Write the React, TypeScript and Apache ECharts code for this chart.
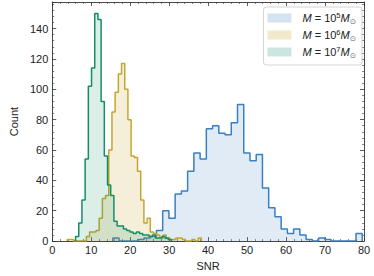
import React, { useEffect, useRef } from 'react';
import * as echarts from 'echarts';

// Histogram bins: start edge, bin width, counts per bin
const blueStart = 15.54;
const blueWidth = 1.6;
const blueCounts = [2, 0, 0, 0, 1, 2, 3, 7, 20, 15, 31, 33, 46, 58, 54, 74, 76, 71, 70, 78, 90, 58, 53, 57, 35, 22, 16, 8, 5, 8, 4, 1, 0, 2, 1, 0, 0, 0, 0, 5];

const yellowStart = 3.84;
const yellowWidth = 0.82;
const yellowCounts = [1, 1, 0, 0, 0, 0, 3, 6, 6, 7, 15, 28, 30, 60, 85, 98, 110, 117, 100, 80, 56, 55, 46, 27, 12, 15, 6, 5, 4, 2, 4, 2, 1, 1, 2, 2, 1, 0, 0, 1, 0, 2];

const greenStart = 5.98;
const greenWidth = 0.82;
const greenCounts = [3, 12, 27, 54, 102, 114, 150, 146, 92, 56, 37, 30, 13, 10, 10, 8, 7, 6, 5, 6, 5, 4, 4, 3, 4, 2, 2, 3, 2, 1];

const massExponents = ['5', '6', '7'];
const seriesNames = ['M = 10^5 Msun', 'M = 10^6 Msun', 'M = 10^7 Msun'];
const lineColors = ['#3A7FC2', '#C4A62C', '#148E68'];
const fillColors = ['rgba(58,127,194,0.22)', 'rgba(196,166,44,0.25)', 'rgba(20,142,104,0.22)'];

const xLabel = 'SNR';
const yLabel = 'Count';

const FONT = '"Liberation Sans", Arial, Helvetica, sans-serif';

function histPoints(start: number, width: number, counts: number[]) {
  const pts: number[][] = [[start, 0]];
  counts.forEach((c, i) => pts.push([start + i * width, c]));
  const end = start + counts.length * width;
  pts.push([end, counts[counts.length - 1]]);
  pts.push([end, 0]);
  return pts;
}

export default function App() {
  const ref = useRef<HTMLDivElement>(null);
  useEffect(() => {
    if (!ref.current) return;
    const chart = echarts.init(ref.current, undefined, { renderer: 'svg' });
    const hists = [
      histPoints(blueStart, blueWidth, blueCounts),
      histPoints(yellowStart, yellowWidth, yellowCounts),
      histPoints(greenStart, greenWidth, greenCounts),
    ];
    const axisLine = { show: true, onZero: false, lineStyle: { color: '#333', width: 0.9 } };
    const axisTick = { show: true, inside: true, length: 4, lineStyle: { color: '#333', width: 0.8 } };
    const minorTick = { show: true, splitNumber: 5, length: 2, lineStyle: { color: '#333', width: 0.6 } };
    const labelStyle = { color: '#222', fontSize: 11, fontFamily: FONT };
    chart.setOption({
      animation: false,
      grid: { left: 38.3, right: 10, top: 2, bottom: 29.3, containLabel: false },
      xAxis: [
        {
          type: 'value', min: 0, max: 80, interval: 10, position: 'bottom',
          axisLine, axisTick, minorTick, splitLine: { show: false },
          axisLabel: { ...labelStyle, margin: 3 },
          name: xLabel, nameLocation: 'middle', nameGap: 16,
          nameTextStyle: { ...labelStyle },
        },
        {
          type: 'value', min: 0, max: 80, interval: 10, position: 'top',
          axisLine, axisTick, minorTick, splitLine: { show: false },
          axisLabel: { show: false },
        },
      ],
      yAxis: [
        {
          type: 'value', min: 0, max: 157.5, interval: 20, position: 'left',
          axisLine, axisTick, minorTick, splitLine: { show: false },
          axisLabel: { ...labelStyle, margin: 4, showMaxLabel: false },
          name: yLabel, nameLocation: 'middle', nameGap: 27,
          nameTextStyle: { ...labelStyle },
        },
        {
          type: 'value', min: 0, max: 157.5, interval: 20, position: 'right',
          axisLine, axisTick, minorTick, splitLine: { show: false },
          axisLabel: { show: false },
        },
      ],
      legend: {
        orient: 'vertical', right: 12, top: 7,
        backgroundColor: '#fff', borderColor: '#d4d4d4', borderWidth: 1, borderRadius: 3,
        padding: [4, 6, 6, 4], itemGap: 3, itemWidth: 24, itemHeight: 9,
        data: seriesNames.map((n, i) => ({ name: n, icon: 'rect', itemStyle: { color: fillColors[i], borderWidth: 0 } })),
        formatter: (name: string) => {
          const i = seriesNames.indexOf(name);
          return `{i|M}{t| = 10}{sup|${massExponents[i]}}{i|M}{sub|⊙}`;
        },
        textStyle: {
          color: '#222', fontFamily: FONT, fontSize: 11, padding: [0, 0, 0, 6],
          rich: {
            i: { fontStyle: 'italic', fontSize: 11, fontFamily: FONT, color: '#222', lineHeight: 14 },
            t: { fontSize: 11, fontFamily: FONT, color: '#222', lineHeight: 14 },
            sup: { fontSize: 7.5, fontFamily: FONT, color: '#222', lineHeight: 8, verticalAlign: 'top' },
            sub: { fontSize: 7.5, fontFamily: '"DejaVu Sans", sans-serif', color: '#666', lineHeight: 8, verticalAlign: 'bottom' },
          },
        },
      },
      series: hists.map((d, i) => ({
        name: seriesNames[i],
        type: 'line',
        step: 'end',
        data: d,
        xAxisIndex: 0,
        yAxisIndex: 0,
        symbol: 'none',
        lineStyle: { color: lineColors[i], width: 1.5 },
        itemStyle: { color: lineColors[i] },
        areaStyle: { color: fillColors[i], origin: 'start' },
        z: 2 + i,
      })),
    });
    return () => chart.dispose();
  }, []);
  return <div ref={ref} style={{ position: 'absolute', left: 0, top: 0, width: 374, height: 276 }} />;
}
